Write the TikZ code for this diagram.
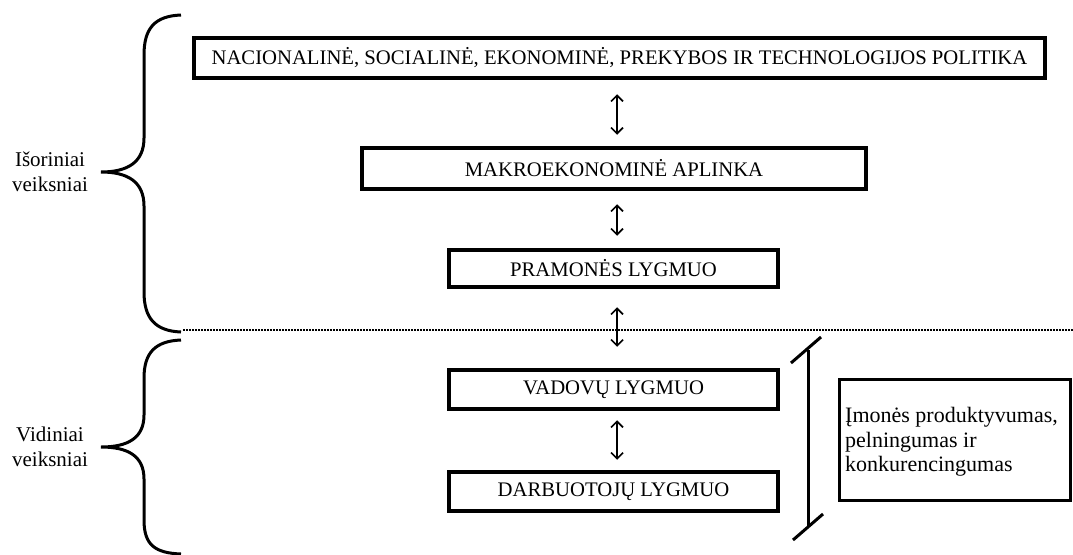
\documentclass[tikz,border=0pt]{standalone}
\usepackage{fontspec}
\setmainfont{Liberation Serif}
\usetikzlibrary{arrows.meta,calc}
\begin{document}
\begin{tikzpicture}[x=1pt,y=-1pt,
  lvl/.style={draw,line width=4.5pt,inner sep=0pt,font=\fontsize{20.7}{24}\selectfont},
  dbl/.style={{Straight Barb[length=6pt,width=12pt,line width=1.6pt]}-{Straight Barb[length=6pt,width=12pt,line width=1.6pt]},line width=1.7pt},
  brace/.style={line width=3pt},
  side/.style={font=\fontsize{21}{25}\selectfont,align=center},
]
\useasboundingbox (0,0) rectangle (1073,554);
% boxes
\node[lvl,minimum width=851pt,minimum height=40pt] (pol) at (619.5,58) {NACIONALINĖ, SOCIALINĖ, EKONOMINĖ, PREKYBOS IR TECHNOLOGIJOS POLITIKA};
\node[lvl,minimum width=504pt,minimum height=41pt] (mak) at (614,168.5) {MAKROEKONOMINĖ APLINKA};
\node[lvl,minimum width=329pt,minimum height=37pt] (pra) at (613.5,268.5) {PRAMONĖS LYGMUO};
\node[lvl,minimum width=329pt,minimum height=39pt] (vad) at (613.5,389.5) {VADOVŲ LYGMUO};
\node[lvl,minimum width=329pt,minimum height=39pt] (dar) at (613.5,491.5) {DARBUOTOJŲ LYGMUO};
\node[draw,line width=3.5pt,minimum width=231pt,minimum height=121pt,inner sep=0pt] (imo) at (955,440) {};
\node[anchor=west,align=left,font=\fontsize{22}{24.5}\selectfont,inner sep=0pt] (imot) at (845,442) {Įmonės produktyvumas,\\pelningumas ir\\konkurencingumas};
% arrows
\coordinate (ax) at (617,0);
\draw[dbl,shorten <=14pt,shorten >=11pt] (pol.south -| ax) -- (mak.north -| ax);
\draw[dbl,shorten <=13pt,shorten >=12pt] (mak.south -| ax) -- (pra.north -| ax);
\draw[dbl,shorten <=18pt,shorten >=21pt] (pra.south -| ax) -- (vad.north -| ax);
\draw[dbl,shorten <=9pt,shorten >=10pt] (vad.south -| ax) -- (dar.north -| ax);
% dotted separator
\coordinate (dl) at (183,330);
\coordinate (dr) at (1073,330);
\draw[line width=2pt,dash pattern=on 1.6pt off 1.4pt] (dl) -- (dr);
% right bracket
\coordinate (bt) at (808,350);
\coordinate (bb) at (808,527);
\draw[line width=3pt] (bt) -- (bb);
\draw[line width=3pt] ($(bt)+(-17,13)$) -- ($(bt)+(13,-13)$);
\draw[line width=3pt] ($(bb)+(-15,13)$) -- ($(bb)+(15,-13)$);
% braces
\draw[brace] (181,15) .. controls (155,16) and (144,28) .. (144,55) -- (144,138)
  .. controls (144,162) and (128,172) .. (101,172)
  .. controls (128,172) and (144,182) .. (144,206) -- (144,292)
  .. controls (144,318) and (155,331) .. (181,332);
\draw[brace] (181,340) .. controls (155,341) and (144,353) .. (144,378) -- (144,415)
  .. controls (144,438) and (128,447) .. (101,447)
  .. controls (128,447) and (144,456) .. (144,479) -- (144,520)
  .. controls (144,545) and (155,553) .. (181,554);
\node[side] (iso) at (50,172) {Išoriniai\\veiksniai};
\node[side] (vid) at (50,447) {Vidiniai\\veiksniai};
\end{tikzpicture}
\end{document}
